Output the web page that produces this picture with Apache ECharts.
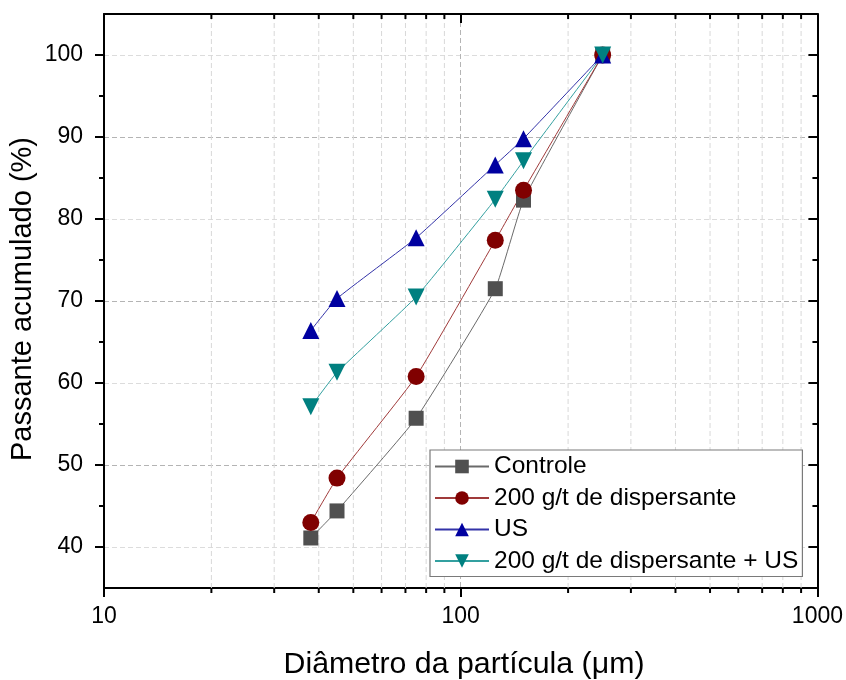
<!DOCTYPE html>
<html>
<head>
<meta charset="utf-8">
<script src="https://cdn.jsdelivr.net/npm/echarts@6/dist/echarts.min.js"></script>
<style>
html,body{margin:0;padding:0;background:#fff;}
#chart{width:846px;height:680px;}
</style>
</head>
<body>
<div id="chart"></div>
<script>
const xValues = [38, 45, 75, 125, 150, 250];
const controle = [41.1, 44.4, 55.7, 71.5, 82.3, 100];
const disp200 = [43.0, 48.4, 60.8, 77.4, 83.5, 100];
const us = [66.4, 70.3, 77.7, 86.6, 89.8, 100];
const dispUS = [57.1, 61.3, 70.5, 82.4, 87.1, 100];
const seriesNames = ['Controle', '200 g/t de dispersante', 'US', '200 g/t de dispersante + US'];
const xMinorTicks = [20, 30, 40, 50, 60, 70, 80, 90, 200, 300, 400, 500, 600, 700, 800, 900];
const yMajorTicks = [40, 50, 60, 70, 80, 90, 100];
const yMinorTicks = [45, 55, 65, 75, 85, 95];
const X_MIN = 10, X_MAX = 1000, Y_MIN = 35, Y_MAX = 105;

const FONT = "'Liberation Sans', Arial, sans-serif";
const chart = echarts.init(document.getElementById('chart'), null, {renderer: 'canvas'});

function pairs(ys) { return xValues.map((x, i) => [x, ys[i]]); }

const lineSeries = (name, ys, color, lineColor, symbol, size, rotate) => ({
  name: name,
  type: 'line',
  data: pairs(ys),
  smooth: 0.12,
  symbol: symbol,
  symbolSize: size,
  symbolRotate: rotate || 0,
  showSymbol: true,
  itemStyle: {color: color, opacity: 1},
  lineStyle: {color: lineColor, width: 1},
  emphasis: {disabled: true},
  z: 5
});

const option = {
  animation: false,
  backgroundColor: '#fff',
  textStyle: {fontFamily: FONT},
  grid: {left: 104, right: 28, top: 14, bottom: 92, containLabel: false},
  xAxis: [{
    type: 'log', logBase: 10, min: X_MIN, max: X_MAX,
    position: 'bottom',
    axisLine: {show: true, onZero: false, lineStyle: {color: '#000', width: 2}},
    axisTick: {show: true, inside: false, length: 9, lineStyle: {color: '#000', width: 2}},
    axisLabel: {show: true, fontSize: 23, color: '#000', margin: 17, fontFamily: FONT, formatter: v => String(v)},
    splitLine: {show: true, lineStyle: {color: '#b4b4b4', type: [5, 3], width: 1}},
    minorTick: {show: false}
  }, {
    type: 'log', logBase: 10, min: X_MIN, max: X_MAX,
    position: 'top',
    axisLine: {show: true, onZero: false, lineStyle: {color: '#000', width: 2}},
    axisTick: {show: true, inside: true, length: 9, lineStyle: {color: '#000', width: 2}},
    axisLabel: {show: false},
    splitLine: {show: false}
  }],
  yAxis: [{
    type: 'value', min: Y_MIN, max: Y_MAX, interval: 5,
    position: 'left',
    axisLine: {show: true, onZero: false, lineStyle: {color: '#000', width: 2}},
    axisTick: {show: true, inside: false, length: 9, customValues: yMajorTicks, lineStyle: {color: '#000', width: 2}},
    axisLabel: {show: true, fontSize: 23, color: '#000', margin: 21, customValues: yMajorTicks, fontFamily: FONT},
    splitLine: {show: true, lineStyle: {color: ['#dcdcdc', '#b4b4b4'], type: [5, 3], width: 1}}
  }, {
    type: 'value', min: Y_MIN, max: Y_MAX, interval: 5,
    position: 'right',
    axisLine: {show: true, onZero: false, lineStyle: {color: '#000', width: 2}},
    axisTick: {show: true, inside: true, length: 9, customValues: yMajorTicks, lineStyle: {color: '#000', width: 2}},
    axisLabel: {show: false},
    splitLine: {show: false}
  }],
  legend: {
    data: seriesNames,
    orient: 'vertical',
    left: 430, top: 450,
    padding: [4, 4, 3, 4],
    itemWidth: 54, itemHeight: 17, itemGap: 6.5,
    borderColor: '#7a7a7a', borderWidth: 1.2, borderRadius: 0,
    backgroundColor: '#fff',
    textStyle: {fontSize: 24.5, color: '#000', fontFamily: FONT},
    selectedMode: false
  },
  graphic: [{
    type: 'text',
    x: 23, y: 299,
    rotation: Math.PI / 2,
    style: {text: 'Passante acumulado (%)', fontSize: 29, fill: '#000', fontFamily: FONT, align: 'center', verticalAlign: 'middle'}
  }, {
    type: 'text',
    x: 464, y: 665,
    style: {text: 'Diâmetro da partícula (μm)', fontSize: 30.3, fill: '#000', fontFamily: FONT, align: 'center', verticalAlign: 'middle'}
  }],
  series: [
    {
      type: 'custom', name: 'xminor', coordinateSystem: 'cartesian2d', clip: false, silent: true, z: 1,
      data: xMinorTicks.map(v => [v, Y_MIN]),
      renderItem: function (params, api) {
        const v = api.value(0);
        const b = api.coord([v, Y_MIN]);
        const t = api.coord([v, Y_MAX]);
        return {type: 'group', children: [
          {type: 'line', shape: {x1: b[0], y1: b[1], x2: t[0], y2: t[1]}, style: {stroke: '#d8d8d8', lineWidth: 1, lineDash: [5, 3]}},
          {type: 'line', z2: 10, shape: {x1: b[0], y1: b[1], x2: b[0], y2: b[1] + 5}, style: {stroke: '#000', lineWidth: 2}},
          {type: 'line', z2: 10, shape: {x1: t[0], y1: t[1], x2: t[0], y2: t[1] + 5}, style: {stroke: '#000', lineWidth: 2}}
        ]};
      }
    },
    {
      type: 'custom', name: 'yminor', coordinateSystem: 'cartesian2d', clip: false, silent: true, z: 1,
      data: yMinorTicks.map(v => [X_MIN, v]),
      renderItem: function (params, api) {
        const v = api.value(1);
        const l = api.coord([X_MIN, v]);
        const r = api.coord([X_MAX, v]);
        return {type: 'group', children: [
          {type: 'line', shape: {x1: l[0] - 5, y1: l[1], x2: l[0], y2: l[1]}, style: {stroke: '#000', lineWidth: 2}},
          {type: 'line', shape: {x1: r[0] - 5, y1: r[1], x2: r[0], y2: r[1]}, style: {stroke: '#000', lineWidth: 2}}
        ]};
      }
    },
    lineSeries(seriesNames[0], controle, '#505050', '#6a6a6a', 'rect', 15),
    lineSeries(seriesNames[1], disp200, '#800000', '#a03a3a', 'circle', 17),
    lineSeries(seriesNames[2], us, '#0000a0', '#3333a8', 'triangle', 17),
    lineSeries(seriesNames[3], dispUS, '#008080', '#33a0a0', 'triangle', 17, 180)
  ]
};
chart.setOption(option);
</script>
</body>
</html>
